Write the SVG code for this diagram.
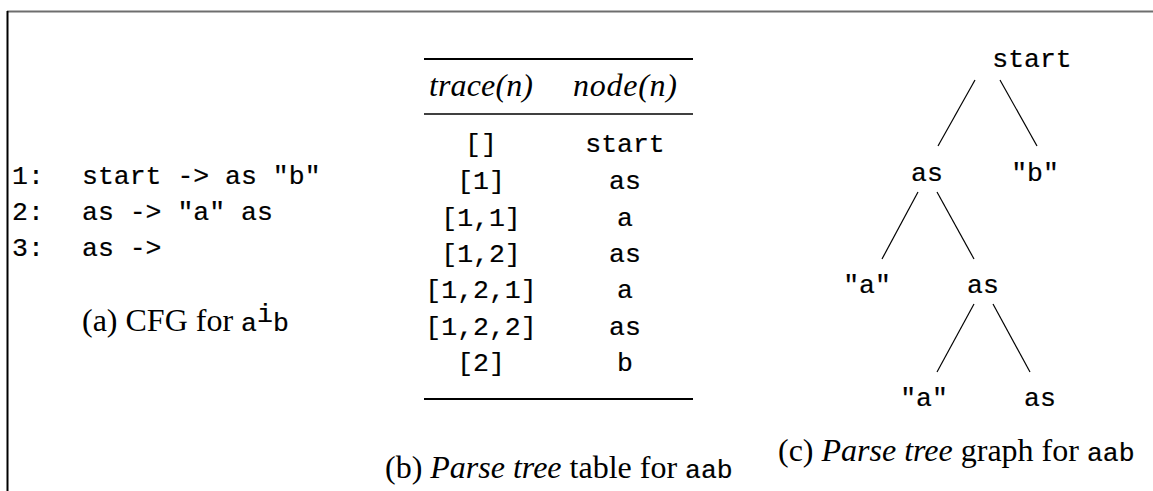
<svg xmlns="http://www.w3.org/2000/svg" width="1153" height="491" viewBox="0 0 1153 491">
<style>
.m{font-family:"Liberation Mono","DejaVu Sans Mono",monospace;font-size:26.5px;fill:#000;stroke:#000;stroke-width:0.2}
.s{font-family:"Liberation Serif","DejaVu Serif",serif;font-size:32px;fill:#000}
.i{font-style:italic}
.c{text-anchor:middle}
.e{stroke:#000;stroke-width:1.2;fill:none}
.r{stroke:#000;fill:none}
</style>
<rect width="1153" height="491" fill="#fff"/>
<g id="frame">
<line x1="7" y1="11.5" x2="1153" y2="11.5" stroke="#6e6e6e" stroke-width="2"/>
<line x1="7.5" y1="11" x2="7.5" y2="491" stroke="#000" stroke-width="2"/>
</g>
<g id="cfg">
<text class="m" x="12" y="184">1:</text><text class="m" x="82" y="184">start -&gt; as "b"</text>
<text class="m" x="12" y="220">2:</text><text class="m" x="82" y="220">as -&gt; "a" as</text>
<text class="m" x="12" y="256">3:</text><text class="m" x="82" y="256">as -&gt;</text>
<text class="s" x="82" y="331">(a) CFG for <tspan class="m">a</tspan><tspan class="m" font-size="16" dy="-9">i</tspan><tspan class="m" dy="9">b</tspan></text>
</g>
<g id="table">
<line class="r" x1="424" y1="59" x2="693" y2="59" stroke-width="2.2"/>
<line class="r" x1="424" y1="114" x2="693" y2="114" stroke-width="1.4"/>
<line class="r" x1="424" y1="399" x2="693" y2="399" stroke-width="2.2"/>
<text class="s i c" x="481" y="96" textLength="104">trace(n)</text>
<text class="s i c" x="625" y="96" textLength="104">node(n)</text>
<text class="m c" x="481" y="152">[]</text><text class="m c" x="625" y="152">start</text>
<text class="m c" x="481" y="189">[1]</text><text class="m c" x="625" y="189">as</text>
<text class="m c" x="481" y="226">[1,1]</text><text class="m c" x="625" y="226">a</text>
<text class="m c" x="481" y="262">[1,2]</text><text class="m c" x="625" y="262">as</text>
<text class="m c" x="481" y="298">[1,2,1]</text><text class="m c" x="625" y="298">a</text>
<text class="m c" x="481" y="335">[1,2,2]</text><text class="m c" x="625" y="335">as</text>
<text class="m c" x="481" y="371">[2]</text><text class="m c" x="625" y="371">b</text>
<text class="s" x="385" y="478">(b) <tspan class="i">Parse tree</tspan> table for <tspan class="m">aab</tspan></text>
</g>
<g id="edges">
<line class="e" x1="975" y1="80" x2="938" y2="146"/>
<line class="e" x1="1000" y1="80" x2="1037" y2="146"/>
<line class="e" x1="918" y1="192" x2="882" y2="259"/>
<line class="e" x1="937" y1="192" x2="974" y2="259"/>
<line class="e" x1="974" y1="304" x2="937" y2="372"/>
<line class="e" x1="993" y1="304" x2="1030" y2="372"/>
</g>
<g id="n-start"><text class="m c" x="1032" y="67">start</text></g>
<g id="n-as1"><text class="m c" x="927" y="181">as</text></g>
<g id="n-b"><text class="m c" x="1035" y="181">"b"</text></g>
<g id="n-a1"><text class="m c" x="867" y="293">"a"</text></g>
<g id="n-as2"><text class="m c" x="983" y="293">as</text></g>
<g id="n-a2"><text class="m c" x="924" y="406">"a"</text></g>
<g id="n-as3"><text class="m c" x="1040" y="406">as</text></g>
<g id="caption-c"><text class="s" x="778" y="461">(c) <tspan class="i">Parse tree</tspan> graph for <tspan class="m">aab</tspan></text></g>
</svg>
